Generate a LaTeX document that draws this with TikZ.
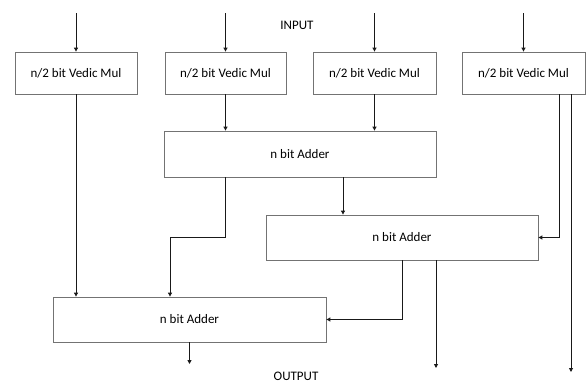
\documentclass[tikz,border=0pt]{standalone}
\usepackage{fontspec}
\setmainfont{Carlito}
\usetikzlibrary{arrows.meta}

\tikzset{
    blk/.style={draw=black!55, line width=0.8pt, fill=white, inner sep=0pt, font=\fontsize{13}{15}\selectfont},
    mulblk/.style={blk, minimum width=122pt, minimum height=42pt},
    addblk/.style={blk, minimum width=272pt, minimum height=45pt},
    wire/.style={line width=0.9pt, black!90, -{Triangle[length=4pt,width=4pt]}},
    lbl/.style={font=\fontsize{13}{15}\selectfont, inner sep=1pt}
}

\begin{document}
\begin{tikzpicture}[x=1pt,y=-1pt]
                \useasboundingbox (0,0) rectangle (587,383);

                % multipliers
                \node[mulblk] (mulA) at (76,73) {n/2 bit Vedic Mul};
                \node[mulblk, minimum width=121pt] (mulB) at (225.5,73) {n/2 bit Vedic Mul};
                \node[mulblk, minimum width=123pt] (mulC) at (374.5,73) {n/2 bit Vedic Mul};
                \node[mulblk, minimum width=123pt] (mulD) at (523.5,73) {n/2 bit Vedic Mul};

                % adders
                \node[addblk, minimum height=46pt] (addA) at (300,154) {n bit Adder};
                \node[addblk] (addB) at (402,237.5) {n bit Adder};
                \node[addblk, minimum width=273pt] (addC) at (189.5,319.5) {n bit Adder};

                \node[lbl] (inlbl) at (297,25) {INPUT};
                \node[lbl] (outlbl) at (296,376.5) {OUTPUT};

                % inputs
                \coordinate (inA) at (76,13);
                \coordinate (inB) at (225.5,13);
                \coordinate (inC) at (374.5,13);
                \coordinate (inD) at (523.5,13);
                \draw[wire] (inA) -- (mulA.north);
                \draw[wire] (inB) -- (mulB.north);
                \draw[wire] (inC) -- (mulC.north);
                \draw[wire] (inD) -- (mulD.north);

                % multiplier outputs
                \draw[wire] (mulA.south) -- (mulA.south |- addC.north);
                \draw[wire] (mulB.south) -- (mulB.south |- addA.north);
                \draw[wire] (mulC.south) -- (mulC.south |- addA.north);
                \draw[wire] ([xshift=35.5pt]mulD.south) |- (addB.east);
                \coordinate (outD) at (571,372);
                \draw[wire] ([xshift=47.5pt]mulD.south) -- (outD);

                % adder outputs
                \coordinate (bendA) at (170,237);
                \draw[wire] (addA.south -| mulB.south) |- (bendA) -- (bendA |- addC.north);
                \draw[wire] ([xshift=43pt]addA.south) coordinate (tapA) -- (tapA |- addB.north);
                \draw[wire] (addB.south) |- (addC.east);
                \coordinate (outB) at (436,368);
                \draw[wire] ([xshift=34pt]addB.south) -- (outB);
                \coordinate (outC) at (189.5,364);
                \draw[wire] (addC.south) -- (outC);
            \end{tikzpicture}
\end{document}
